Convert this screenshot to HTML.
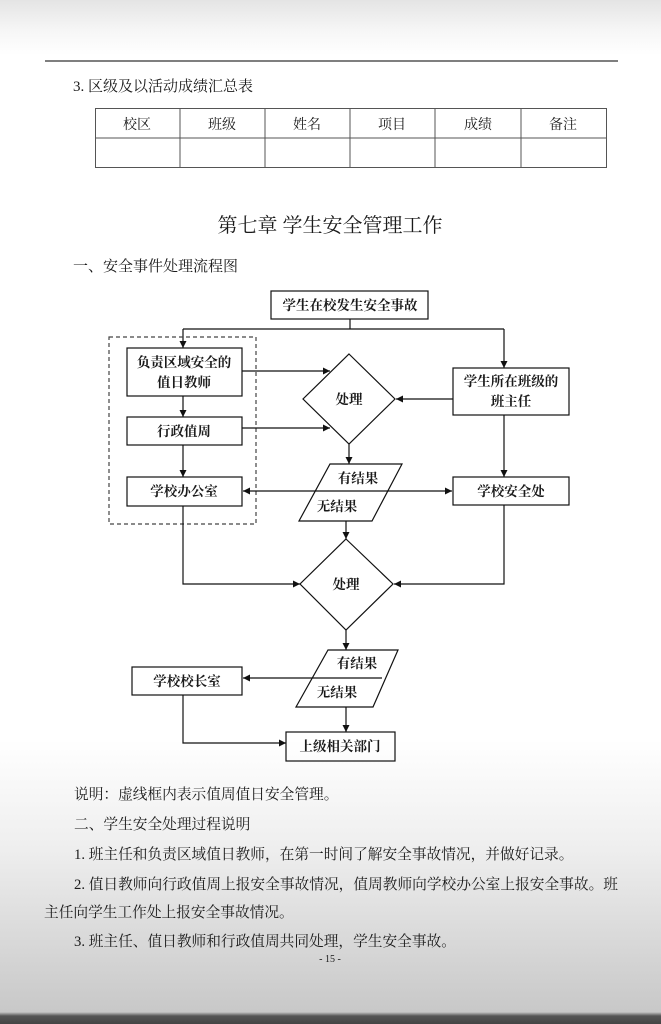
<!DOCTYPE html>
<html><head><meta charset="utf-8"><style>
html,body{margin:0;padding:0;}
body{width:661px;height:1024px;overflow:hidden;background:linear-gradient(#e4e4e4 0px,#f6f6f6 30px,#ffffff 55px,#ffffff 740px,#eeeeee 850px,#d4d4d4 960px,#c8c8c8 1012px,#555 1016px,#444 1024px);}
svg{position:absolute;left:0;top:0;}
text{font-family:"Liberation Serif","Noto Serif CJK SC",serif;fill:#1a1a1a;}
</style></head><body>
<svg width="661" height="1024" viewBox="0 0 661 1024">
<defs><marker id="a" markerWidth="8" markerHeight="8" refX="7" refY="4" orient="auto" markerUnits="userSpaceOnUse"><path d="M0,0.5 L7,4 L0,7.5 z" fill="#111"/></marker></defs>
<line x1="45" y1="61" x2="618" y2="61" stroke="#555" stroke-width="1.5"/>
<text x="73" y="91" font-size="15">3. 区级及以活动成绩汇总表</text>
<g stroke="#555" stroke-width="1" fill="none">
<rect x="95.5" y="108.5" width="511" height="59"/>
<line x1="95" y1="138" x2="606" y2="138"/>
<line x1="180" y1="108" x2="180" y2="167"/><line x1="265" y1="108" x2="265" y2="167"/>
<line x1="350" y1="108" x2="350" y2="167"/><line x1="435" y1="108" x2="435" y2="167"/>
<line x1="521" y1="108" x2="521" y2="167"/>
</g>
<g font-size="14" text-anchor="middle">
<text x="137" y="129">校区</text><text x="222" y="129">班级</text><text x="307" y="129">姓名</text>
<text x="392" y="129">项目</text><text x="478" y="129">成绩</text><text x="563" y="129">备注</text>
</g>
<text x="330" y="232" font-size="20" text-anchor="middle">第七章  学生安全管理工作</text>
<text x="73" y="271" font-size="15">一、安全事件处理流程图</text>

<g stroke="#111" stroke-width="1.2" fill="none">
<rect x="271" y="291" width="157" height="28" fill="#fff"/>
<polyline points="350,319 350,329"/>
<polyline points="183,329 504,329"/>
<line x1="183" y1="329" x2="183" y2="348" marker-end="url(#a)"/>
<line x1="504" y1="329" x2="504" y2="368" marker-end="url(#a)"/>
<rect x="109" y="337" width="147" height="187" stroke-dasharray="4,3" stroke="#444"/>
<rect x="127" y="348" width="115" height="48"/>
<rect x="127" y="417" width="115" height="28"/>
<rect x="127" y="477" width="115" height="29"/>
<line x1="183" y1="396" x2="183" y2="417" marker-end="url(#a)"/>
<line x1="183" y1="445" x2="183" y2="477" marker-end="url(#a)"/>
<polygon points="349,354 395,399 349,444 303,399"/>
<line x1="242" y1="371" x2="330" y2="371" marker-end="url(#a)"/>
<line x1="242" y1="428" x2="330" y2="428" marker-end="url(#a)"/>
<rect x="453" y="368" width="116" height="47"/>
<line x1="453" y1="399" x2="396" y2="399" marker-end="url(#a)"/>
<line x1="349" y1="444" x2="349" y2="464" marker-end="url(#a)"/>
<polygon points="330,464 402,464 372,521 299,521"/>
<rect x="453" y="477" width="116" height="28"/>
<line x1="504" y1="415" x2="504" y2="477" marker-end="url(#a)"/>
<line x1="300" y1="491" x2="243" y2="491" marker-end="url(#a)"/>
<line x1="300" y1="491" x2="452" y2="491" marker-end="url(#a)"/>
<polyline points="183,506 183,584 300,584" marker-end="url(#a)"/>
<polyline points="504,505 504,584 394,584" marker-end="url(#a)"/>
<line x1="346" y1="521" x2="346" y2="539" marker-end="url(#a)"/>
<polygon points="346,539 393,584 346,630 300,584"/>
<line x1="346" y1="630" x2="346" y2="650" marker-end="url(#a)"/>
<polygon points="328,650 398,650 373,707 296,707"/>
<line x1="382" y1="678" x2="243" y2="678" marker-end="url(#a)"/>
<rect x="132" y="667" width="110" height="28"/>
<line x1="346" y1="707" x2="346" y2="732" marker-end="url(#a)"/>
<rect x="286" y="732" width="109" height="29"/>
<polyline points="183,695 183,743 286,743" marker-end="url(#a)"/>
</g>
<g font-size="13.5" text-anchor="middle" font-weight="bold">
<text x="350" y="310">学生在校发生安全事故</text>
<text x="184" y="367">负责区域安全的</text>
<text x="184" y="387">值日教师</text>
<text x="184" y="436">行政值周</text>
<text x="184" y="496">学校办公室</text>
<text x="349" y="404">处理</text>
<text x="511" y="386">学生所在班级的</text>
<text x="511" y="406">班主任</text>
<text x="511" y="496">学校安全处</text>
<text x="358" y="483">有结果</text>
<text x="337" y="511">无结果</text>
<text x="346" y="589">处理</text>
<text x="357" y="668">有结果</text>
<text x="337" y="697">无结果</text>
<text x="187" y="686">学校校长室</text>
<text x="340" y="751">上级相关部门</text>
</g>
<g font-size="14.7">
<text x="74" y="799">说明：虚线框内表示值周值日安全管理。</text>
<text x="74" y="829">二、学生安全处理过程说明</text>
<text x="74" y="859">1. 班主任和负责区域值日教师，在第一时间了解安全事故情况，并做好记录。</text>
<text x="74" y="889" textLength="544" lengthAdjust="spacingAndGlyphs">2. 值日教师向行政值周上报安全事故情况，值周教师向学校办公室上报安全事故。班</text>
<text x="44" y="917">主任向学生工作处上报安全事故情况。</text>
<text x="74" y="946">3. 班主任、值日教师和行政值周共同处理，学生安全事故。</text>
</g>
<text x="330" y="962" font-size="10" text-anchor="middle">- 15 -</text>
</svg>
</body></html>
